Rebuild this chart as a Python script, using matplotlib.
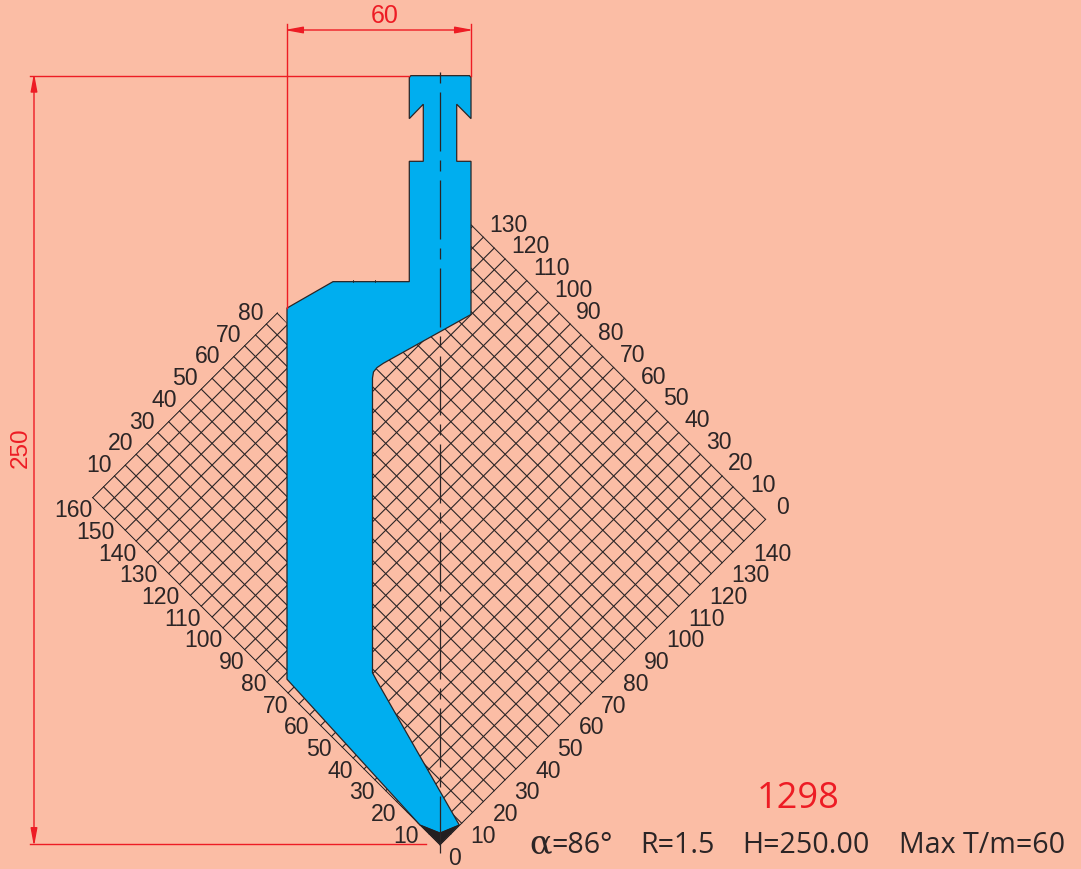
import numpy as np
import matplotlib
matplotlib.use("Agg")
import matplotlib.pyplot as plt
from matplotlib.patches import Polygon

BG = "#fbbda5"
BLUE = "#00aeef"
INK = "#2b2526"
RED = "#ed1c24"
PX = 3.07  # pixels per drawing unit

# tool profile in drawing units (origin at tip)
PROFILE_X = [-10.0, -9.5, 9.6, 10.1, 10.1, 5.44, 5.44, 10.1, 10.1,
             -18.47, -20.52, -21.66, -21.99, -21.99, -20.2, 6.29, 0.0, -6.51,
             -49.84, -49.84, -34.85, -10.0, -10.0, -5.44, -5.44, -10.0]
PROFILE_Y = [250.0, 250.6, 250.6, 250.0, 236.6, 241.3, 222.7, 222.7, 172.8,
             156.9, 155.5, 154.1, 152.1, 56.1, 52.8, 6.5, 3.9, 6.5,
             54.0, 174.9, 183.5, 183.5, 222.7, 222.7, 241.3, 236.6]
TIP_X = [6.29, 0.0, -6.51, 0.0]
TIP_Y = [6.5, 0.2, 6.5, 3.9]

GRID_U = list(range(0, 151, 5))
GRID_V = list(range(0, 161, 5))

LABELS_UPPER_RIGHT = [0, 10, 20, 30, 40, 50, 60, 70, 80, 90, 100, 110, 120, 130]
LABELS_LOWER_RIGHT = [10, 20, 30, 40, 50, 60, 70, 80, 90, 100, 110, 120, 130, 140]
LABELS_UPPER_LEFT = [10, 20, 30, 40, 50, 60, 70, 80]
LABELS_LOWER_LEFT = [10, 20, 30, 40, 50, 60, 70, 80, 90, 100, 110, 120, 130, 140, 150, 160]

WIDTH_DIM = "60"
HEIGHT_DIM = "250"
MODEL = "1298"
SPECS = ["=86°", "R=1.5", "H=250.00", "Max T/m=60"]


def xy(u, v):
    return (u - v) / np.sqrt(2), (u + v) / np.sqrt(2)


def px_x(p):
    return (p - 440) / PX


def px_y(p):
    return (845 - p) / PX


fig = plt.figure(figsize=(10.81, 8.69), dpi=100, facecolor=BG)
ax = fig.add_axes([0, 0, 1, 1])
ax.set_xlim(px_x(0), px_x(1081))
ax.set_ylim(px_y(869), px_y(0))
ax.axis("off")

# ---- hatch
m = 0.25
clip_pts = [xy(-m, -m), xy(150 + m, -m), xy(150 + m, 136.0),
            (10.1, 172.8), (-49.84, 170.0), xy(85 + m, 160 - 1), xy(85 + m, 160 + m),
            xy(-m, 160 + m)]
clip = Polygon(clip_pts, closed=True, transform=ax.transData, facecolor="none", edgecolor="none")
ax.add_patch(clip)
for v in GRID_V:
    xa, ya = xy(0, v)
    xb, yb = xy(150, v)
    ln, = ax.plot([xa, xb], [ya, yb], color=INK, lw=0.8, solid_capstyle="projecting", zorder=1)
    ln.set_clip_path(clip)
for u in GRID_U:
    xa, ya = xy(u, 0)
    xb, yb = xy(u, 160)
    ln, = ax.plot([xa, xb], [ya, yb], color=INK, lw=0.8, solid_capstyle="projecting", zorder=1)
    ln.set_clip_path(clip)

# ---- tool
ax.add_patch(Polygon(np.column_stack([PROFILE_X, PROFILE_Y]), closed=True, facecolor=BLUE,
                     edgecolor=INK, lw=0.9, joinstyle="miter", zorder=2))
ax.add_patch(Polygon(np.column_stack([TIP_X, TIP_Y]), closed=True, facecolor="#231f20",
                     edgecolor="#231f20", lw=0.5, zorder=3))
for px in (353, 375):
    ax.plot([px_x(px)] * 2, [183.5, 184.2], color=INK, lw=0.6, zorder=3)

# ---- centre line (long 59 px, gap 9, short 11, gap 9)
cl, = ax.plot([0, 0], [px_y(72), px_y(853)], color=INK, lw=0.9, zorder=4, solid_capstyle="butt")
cl.set_linestyle((0, (11 * 0.72 / 0.9, 9 * 0.72 / 0.9, 59 * 0.72 / 0.9, 9 * 0.72 / 0.9)))
cl.set_dash_capstyle("butt")

# ---- red dimensions
red_lw = 1.0
xl, xr = -49.84, 10.1
top = 250.6
ax.plot([xl, xl], [px_y(24), 174.9], color=RED, lw=red_lw, zorder=5)
ax.plot([xr, xr], [px_y(24), top], color=RED, lw=red_lw, zorder=5)
ax.plot([px_x(30), -10], [top, top], color=RED, lw=red_lw, zorder=5)
ax.plot([px_x(30), -4.5], [0.3, 0.3], color=RED, lw=red_lw, zorder=1.5)
arrow = dict(arrowstyle="<|-|>,head_length=10.8,head_width=2.0", color=RED, lw=red_lw,
             mutation_scale=1, shrinkA=0, shrinkB=0)
pad = 0.8
ax.annotate("", xy=(xl - pad, px_y(30)), xytext=(xr + pad, px_y(30)), arrowprops=arrow, zorder=5)
ax.annotate("", xy=(px_x(34), top + pad), xytext=(px_x(34), 0.3 - pad), arrowprops=arrow, zorder=5)

sans = "Liberation Sans"
ax.text(px_x(385), px_y(16), WIDTH_DIM, color=RED, fontsize=18, family=sans, ha="center", va="center")
ax.text(px_x(21), px_y(448), HEIGHT_DIM, color=RED, fontsize=17.5, family=sans, ha="center",
        va="center", rotation=90)


# ---- scale labels
def lab(val, u, v, dx, dy, ha):
    ax.annotate(str(val), xy=xy(u, v), xytext=(dx, dy), textcoords="offset pixels", ha=ha,
                va="center_baseline", fontsize=16.6, family=sans, color=INK, zorder=6)


for k in LABELS_UPPER_RIGHT:
    lab(k, 150, k, 11 if k == 0 else 6, 14.5, "left")
for k in LABELS_LOWER_RIGHT:
    lab(k, k, 0, 9, -10.5, "left")
for k in LABELS_UPPER_LEFT:
    lab(k, k, 160, -3, 13, "right")
for k in LABELS_LOWER_LEFT:
    lab(k, 0, k, 0, -10.5, "right")
lab(0, 0, 0, 14, -11, "center")

# ---- title block
ax.text(px_x(798), px_y(808), MODEL, color=RED, fontsize=26, family="Open Sans", ha="center", va="baseline")
base = px_y(853)
ax.text(px_x(529), base, "α", fontsize=24, family="DejaVu Serif", color=INK, ha="left", va="baseline")
spec_left = [551, 640, 742, 899]
for s, p in zip(SPECS, spec_left):
    ax.text(px_x(p), base, s, fontsize=20.6, family="Open Sans", color=INK, ha="left", va="baseline")

fig.savefig("out.png", dpi=100, facecolor=BG)
